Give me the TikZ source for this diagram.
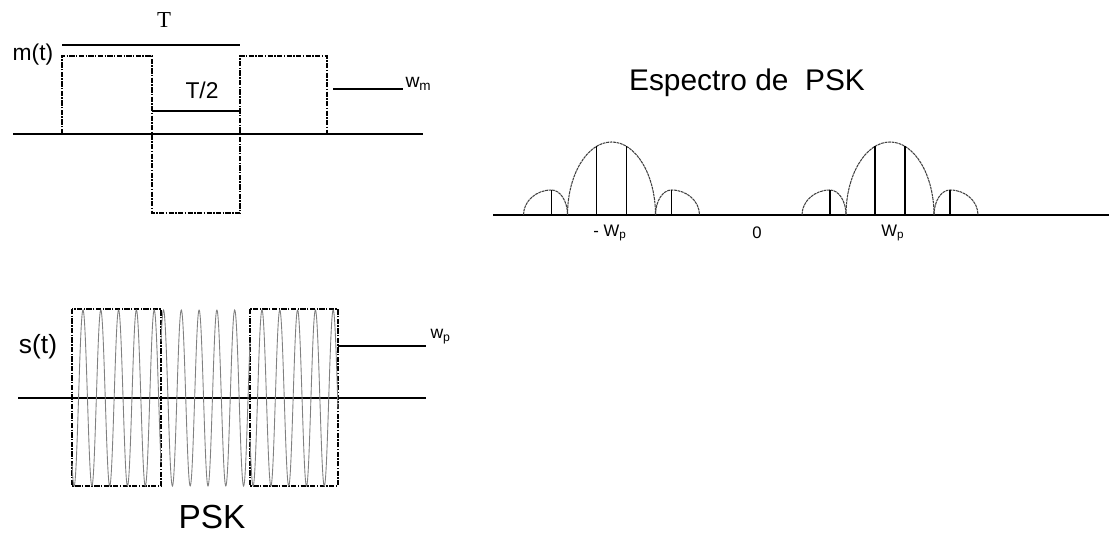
\documentclass[tikz,border=0pt]{standalone}
\usepackage{fontspec}
\setmainfont{Liberation Sans}
\newfontfamily\timesfont{Liberation Serif}
\usetikzlibrary{positioning}

\tikzset{
  dashdot/.style={dash pattern=on 3pt off 0.8pt on 0.8pt off 0.8pt},
  lobe/.style={dash pattern=on 1.6pt off 0.4pt, black!75},
  carrier/.style={gray, line width=0.5pt},
  lbl/.style={inner sep=0pt, font=\fontsize{13}{15}\selectfont},
  small/.style={inner sep=0pt, font=\fontsize{9.5}{11}\selectfont}
}

\begin{document}
\begin{tikzpicture}[x=0.02cm, y=-0.02cm, line width=0.6pt]
\useasboundingbox (0,0) rectangle (1109,536);

% m(t)
\node [lbl, font=\timesfont\fontsize{13}{15}\selectfont] (T) at (164,20) {T};
\node [lbl] (mt) at (33,55) {m(t)};
\node [lbl] (Thalf) at (202,90) {T/2};
\node [inner sep=0pt, anchor=base west, font=\fontsize{11}{13}\selectfont] (wm) at (405,88)
  {w\textsubscript{m}};
\coordinate (Ta) at (62,45);  \coordinate (Tb) at (240,45);
\coordinate (wmend) at (403,89);
\draw (Ta) -- (Tb);
\draw (152,111) -- (240,111);
\draw (333,89) -- (wmend);
\draw (13,134) -- (423,134);
\draw [dashdot] (62,134) -- (62,56) -- (152,56) -- (152,213) -- (240,213)
  -- (240,56) -- (327,56) -- (327,134);

% s(t)
\node [lbl, font=\fontsize{15}{17}\selectfont] (st) at (38,347) {s(t)};
\node [inner sep=0pt, anchor=base west, font=\fontsize{10}{12}\selectfont] (wp) at (430,339)
  {w\textsubscript{p}};
\node [inner sep=0pt, font=\fontsize{19}{21}\selectfont] (psk) at (212,517) {PSK};
\coordinate (wpend) at (426,346);
\draw (18,398) -- (426,398);
\draw (338,346) -- (wpend);
\draw [dashdot] (72,309) rectangle (161,486);
\draw [dashdot] (250,309) rectangle (338,486);
\draw [carrier] plot [domain=72:161, samples=250] (\x, {398 - 88*cos(20.225*(\x-83))});
\draw [carrier] plot [domain=161:250, samples=250] (\x, {398 - 88*cos(20.225*(\x-163.5))});
\draw [carrier] plot [domain=250:338, samples=250] (\x, {398 - 88*cos(20.225*(\x-262))});

% espectro
\node [inner sep=0pt, font=\fontsize{17}{20}\selectfont] (title) at (747,83) {Espectro de\ \ PSK};
\node [small] (mwp) at (610,233) {- W\textsubscript{p}};
\node [small] (zero) at (757,233) {0};
\node [small] (pwp) at (893,233) {W\textsubscript{p}};
\draw (493,215) -- (1109,215);
\foreach \c in {611.5, 890} {
  \draw [lobe] (\c-88,215) arc [start angle=180, end angle=270, x radius=28, y radius=25]
    arc [start angle=270, end angle=360, x radius=16, y radius=25];
  \draw [lobe] (\c-44,215) arc [start angle=180, end angle=360, x radius=44, y radius=73];
  \draw [lobe] (\c+44,215) arc [start angle=180, end angle=270, x radius=16, y radius=25]
    arc [start angle=270, end angle=360, x radius=28, y radius=25];
  \draw (\c-60,215) -- (\c-60,190);
  \draw (\c+60,215) -- (\c+60,190);
  \draw (\c-15,215) -- (\c-15,146);
  \draw (\c+15,215) -- (\c+15,146);
}
\end{tikzpicture}
\end{document}
